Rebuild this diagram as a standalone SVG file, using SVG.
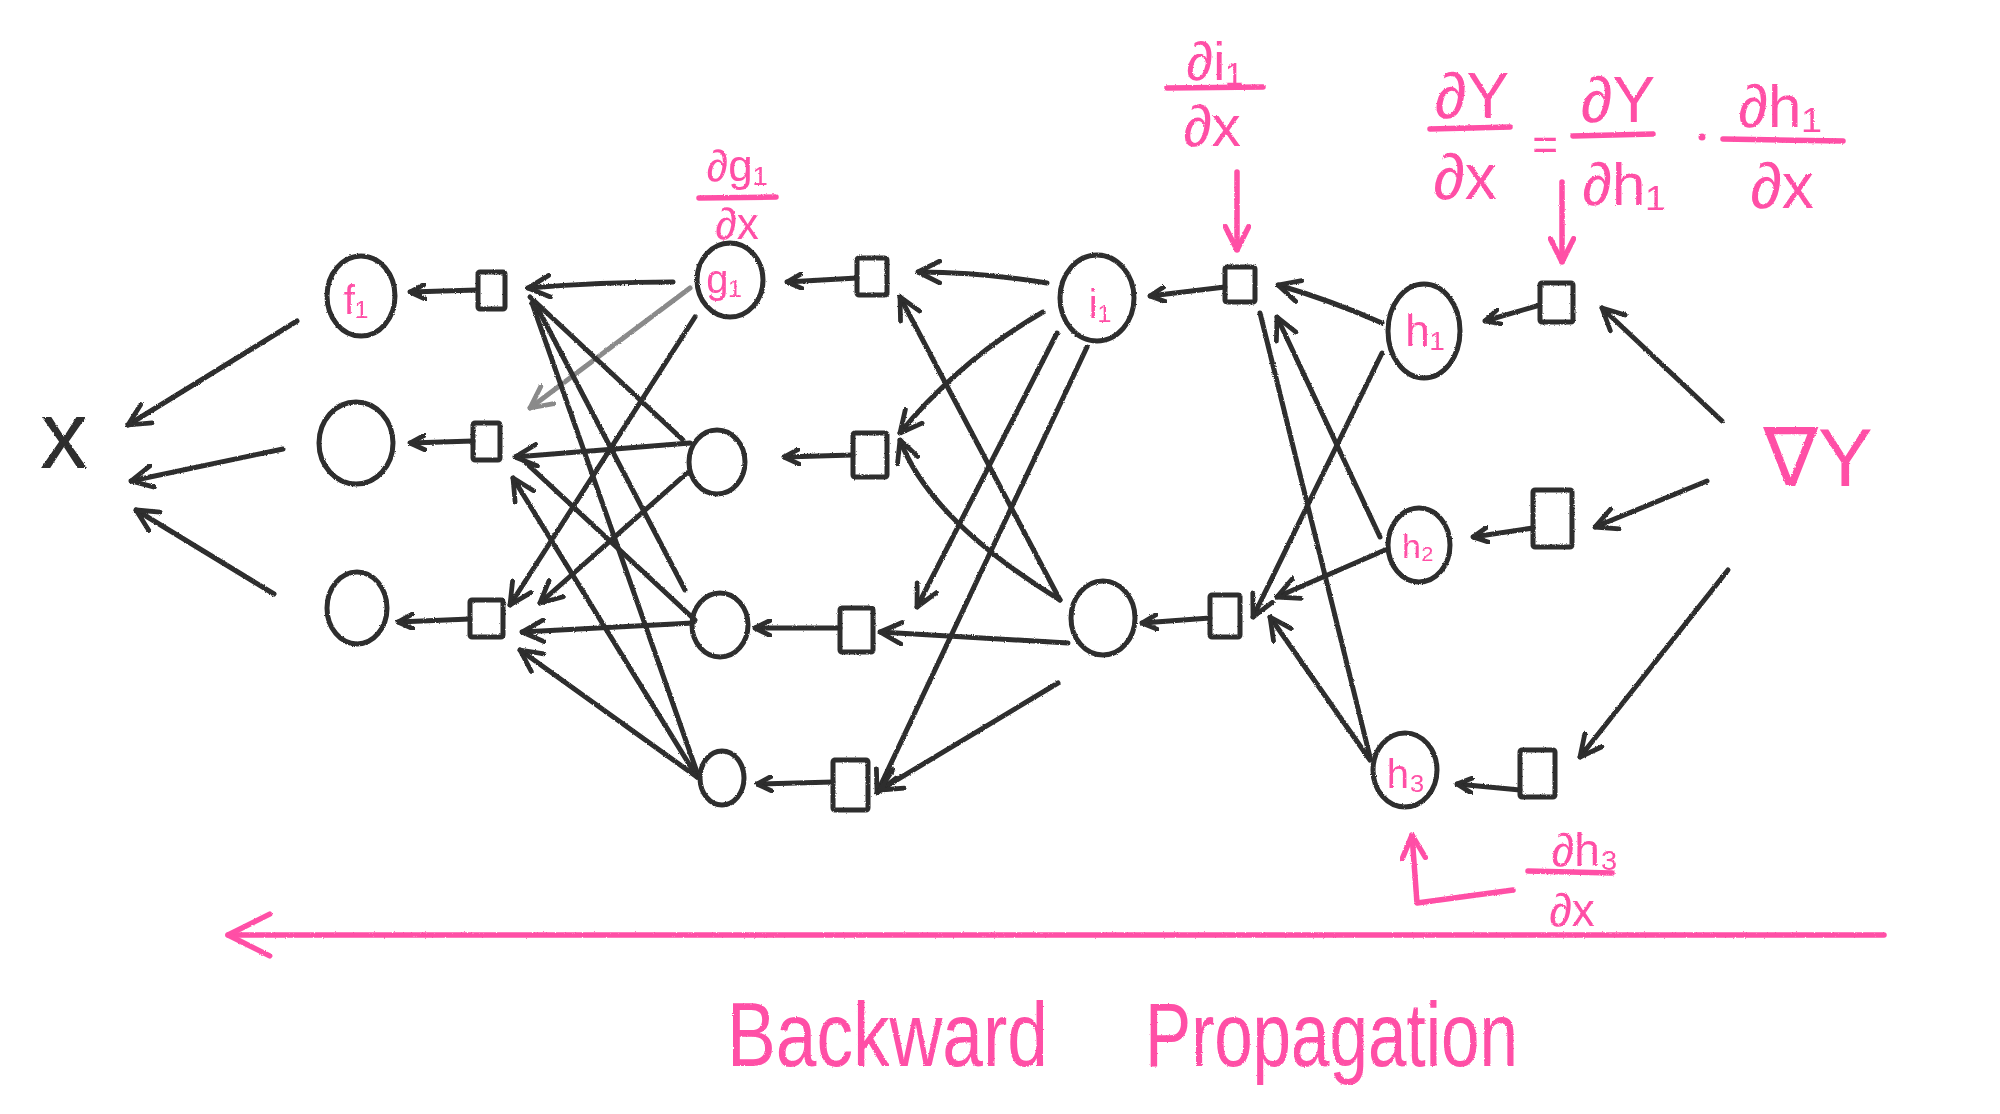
<svg xmlns="http://www.w3.org/2000/svg" width="2000" height="1114" viewBox="0 0 2000 1114">
<style>
.ln{fill:none;stroke:#2d2d2d;stroke-width:5;stroke-linecap:round;stroke-linejoin:round}
.gr{fill:none;stroke:#8a8a8a;stroke-width:5;stroke-linecap:round}
.nd{fill:none;stroke:#2d2d2d;stroke-width:5}
.pk{fill:none;stroke:#ff4fa6;stroke-width:5.5;stroke-linecap:round;stroke-linejoin:round}
.pt{fill:#ff4fa6;font-family:"Liberation Sans","DejaVu Sans",sans-serif;text-anchor:middle}
.ps{fill:#ff4fa6;font-family:"Liberation Sans","DejaVu Sans",sans-serif;text-anchor:start}
.bt{fill:#2d2d2d;font-family:"Liberation Sans","DejaVu Sans",sans-serif;text-anchor:middle}
</style>
<defs>
<filter id="rough" x="-5%" y="-5%" width="110%" height="110%">
<feTurbulence type="fractalNoise" baseFrequency="0.9" numOctaves="1" seed="3" result="n"/>
<feDisplacementMap in="SourceGraphic" in2="n" scale="2.5" xChannelSelector="R" yChannelSelector="G"/>
</filter>
<marker id="ab" viewBox="0 0 12 12" refX="11" refY="6" markerWidth="26" markerHeight="26" markerUnits="userSpaceOnUse" orient="auto"><path d="M1,1 L11,6 L1,11" fill="none" stroke="#2d2d2d" stroke-width="2.2" stroke-linecap="round" stroke-linejoin="round"/></marker>
<marker id="as" viewBox="0 0 12 12" refX="11" refY="6" markerWidth="18" markerHeight="18" markerUnits="userSpaceOnUse" orient="auto"><path d="M1,1 L11,6 L1,11" fill="none" stroke="#2d2d2d" stroke-width="3.2" stroke-linecap="round" stroke-linejoin="round"/></marker>
<marker id="ag" viewBox="0 0 12 12" refX="11" refY="6" markerWidth="26" markerHeight="26" markerUnits="userSpaceOnUse" orient="auto"><path d="M1,1 L11,6 L1,11" fill="none" stroke="#8a8a8a" stroke-width="2.2" stroke-linecap="round" stroke-linejoin="round"/></marker>
<marker id="ap" viewBox="0 0 12 12" refX="11" refY="6" markerWidth="28" markerHeight="28" markerUnits="userSpaceOnUse" orient="auto"><path d="M1,1 L11,6 L1,11" fill="none" stroke="#ff4fa6" stroke-width="2.3" stroke-linecap="round" stroke-linejoin="round"/></marker>
<marker id="apb" viewBox="0 0 12 12" refX="11" refY="6" markerWidth="50" markerHeight="50" markerUnits="userSpaceOnUse" orient="auto"><path d="M1,1 L11,6 L1,11" fill="none" stroke="#ff4fa6" stroke-width="1.3" stroke-linecap="round" stroke-linejoin="round"/></marker>
</defs>
<rect width="2000" height="1114" fill="#ffffff"/>
<g filter="url(#rough)">
<g id="connectors">
<path class="ln" d="M297,321 L128,425" marker-end="url(#ab)"/>
<path class="ln" d="M283,449 L131,481" marker-end="url(#ab)"/>
<path class="ln" d="M274,594 L136,510" marker-end="url(#ab)"/>
<path class="ln" d="M477,290 L410,292" marker-end="url(#as)"/>
<path class="ln" d="M473,441 L410,443" marker-end="url(#as)"/>
<path class="ln" d="M470,619 L398,622" marker-end="url(#as)"/>
<path class="ln" d="M857,278 L787,282" marker-end="url(#as)"/>
<path class="ln" d="M853,455 L784,457" marker-end="url(#as)"/>
<path class="ln" d="M840,628 L755,628" marker-end="url(#as)"/>
<path class="ln" d="M833,782 L757,784" marker-end="url(#as)"/>
<path class="ln" d="M1225,287 L1150,296" marker-end="url(#as)"/>
<path class="ln" d="M1210,618 L1142,623" marker-end="url(#as)"/>
<path class="ln" d="M1540,305 L1485,321" marker-end="url(#as)"/>
<path class="ln" d="M1533,528 L1473,537" marker-end="url(#as)"/>
<path class="ln" d="M1520,790 L1457,784" marker-end="url(#as)"/>
<path class="ln" d="M673,282 Q600,282 528,288" marker-end="url(#ab)"/>
<path class="gr" d="M690,288 L530,408" marker-end="url(#ag)"/>
<path class="ln" d="M695,317 L510,605" marker-end="url(#ab)"/>
<path class="ln" d="M683,440 L530,297"/>
<path class="ln" d="M690,443 L515,457" marker-end="url(#ab)"/>
<path class="ln" d="M687,473 L540,603" marker-end="url(#ab)"/>
<path class="ln" d="M685,590 L537,307"/>
<path class="ln" d="M695,620 L525,462"/>
<path class="ln" d="M693,623 L522,632" marker-end="url(#ab)"/>
<path class="ln" d="M698,775 L532,303"/>
<path class="ln" d="M697,777 L513,478" marker-end="url(#ab)"/>
<path class="ln" d="M697,777 L520,650" marker-end="url(#ab)"/>
<path class="ln" d="M1047,283 Q980,272 918,272" marker-end="url(#ab)"/>
<path class="ln" d="M1043,312 Q960,360 900,433" marker-end="url(#ab)"/>
<path class="ln" d="M1057,333 L917,607" marker-end="url(#ab)"/>
<path class="ln" d="M1087,347 L877,793" marker-end="url(#ab)"/>
<path class="ln" d="M1060,600 L900,297" marker-end="url(#ab)"/>
<path class="ln" d="M1060,600 Q930,520 900,440" marker-end="url(#ab)"/>
<path class="ln" d="M1068,643 L880,632" marker-end="url(#ab)"/>
<path class="ln" d="M1058,683 L880,790" marker-end="url(#ab)"/>
<path class="ln" d="M1382,323 Q1330,300 1278,285" marker-end="url(#ab)"/>
<path class="ln" d="M1382,353 L1253,617" marker-end="url(#ab)"/>
<path class="ln" d="M1380,537 L1277,317" marker-end="url(#ab)"/>
<path class="ln" d="M1385,550 L1277,597" marker-end="url(#ab)"/>
<path class="ln" d="M1370,757 L1260,313"/>
<path class="ln" d="M1370,760 L1270,617" marker-end="url(#ab)"/>
<path class="ln" d="M1722,421 L1602,308" marker-end="url(#ab)"/>
<path class="ln" d="M1707,481 L1595,527" marker-end="url(#ab)"/>
<path class="ln" d="M1728,570 L1580,757" marker-end="url(#ab)"/>
<path class="pk" d="M1237,172 L1237,250" marker-end="url(#ap)"/>
<path class="pk" d="M1562,182 L1562,262" marker-end="url(#ap)"/>
<path class="pk" d="M1513,890 L1417,903 L1412,835" marker-end="url(#ap)"/>
<path class="pk" stroke-width="6.5" d="M1884,935 L228,935" marker-end="url(#apb)"/>
</g>
<g id="x"><text class="bt" x="64" y="468" font-size="96">x</text></g>
<g id="f1"><ellipse class="nd" cx="361" cy="296" rx="34" ry="40"/><text class="pt" x="356" y="314" font-size="40">f₁</text></g>
<g id="f2"><ellipse class="nd" cx="356" cy="443" rx="37" ry="41"/></g>
<g id="f3"><ellipse class="nd" cx="357" cy="608" rx="30" ry="36"/></g>
<g id="sf1"><rect class="nd" x="478" y="272" width="27" height="37" rx="2"/></g>
<g id="sf2"><rect class="nd" x="473" y="423" width="27" height="37" rx="2"/></g>
<g id="sf3"><rect class="nd" x="470" y="600" width="33" height="37" rx="2"/></g>
<g id="g1"><ellipse class="nd" cx="730" cy="280" rx="33" ry="37"/><text class="pt" x="724" y="293" font-size="40">g₁</text></g>
<g id="g2"><ellipse class="nd" cx="717" cy="462" rx="28" ry="32"/></g>
<g id="g3"><ellipse class="nd" cx="720" cy="625" rx="28" ry="32"/></g>
<g id="g4"><ellipse class="nd" cx="722" cy="778" rx="22" ry="27"/></g>
<g id="sg1"><rect class="nd" x="857" y="258" width="30" height="37" rx="2"/></g>
<g id="sg2"><rect class="nd" x="853" y="433" width="34" height="44" rx="2"/></g>
<g id="sg3"><rect class="nd" x="840" y="608" width="33" height="44" rx="2"/></g>
<g id="sg4"><rect class="nd" x="833" y="760" width="35" height="50" rx="2"/></g>
<g id="i1"><ellipse class="nd" cx="1097" cy="298" rx="37" ry="43"/><text class="pt" x="1100" y="318" font-size="40">i₁</text></g>
<g id="i2"><ellipse class="nd" cx="1103" cy="618" rx="32" ry="37"/></g>
<g id="si1"><rect class="nd" x="1225" y="267" width="30" height="35" rx="2"/></g>
<g id="si2"><rect class="nd" x="1210" y="595" width="30" height="42" rx="2"/></g>
<g id="h1"><ellipse class="nd" cx="1424" cy="331" rx="36" ry="47"/><text class="pt" x="1425" y="346" font-size="44">h₁</text></g>
<g id="h2"><ellipse class="nd" cx="1419" cy="545" rx="31" ry="37"/><text class="pt" x="1418" y="558" font-size="34">h₂</text></g>
<g id="h3"><ellipse class="nd" cx="1405" cy="770" rx="32" ry="37"/><text class="pt" x="1406" y="788" font-size="40">h₃</text></g>
<g id="sh1"><rect class="nd" x="1540" y="283" width="33" height="39" rx="2"/></g>
<g id="sh2"><rect class="nd" x="1533" y="490" width="39" height="57" rx="2"/></g>
<g id="sh3"><rect class="nd" x="1520" y="750" width="35" height="47" rx="2"/></g>
<g id="gradY"><text class="pt" x="1818" y="486" font-size="82">∇Y</text></g>
<g id="dg"><text class="pt" x="737" y="181" font-size="44">∂g₁</text><path class="pk" stroke-width="4.5" d="M699,198 L776,197"/><text class="pt" x="737" y="239" font-size="44">∂x</text></g>
<g id="di"><text class="pt" x="1215" y="80" font-size="54">∂i₁</text><path class="pk" d="M1167,88 L1263,87"/><text class="pt" x="1212" y="146" font-size="58">∂x</text></g>
<g id="eq">
<text class="pt" x="1472" y="118" font-size="64">∂Y</text><path class="pk" d="M1430,129 L1510,127"/><text class="pt" x="1465" y="199" font-size="64">∂x</text>
<text class="pt" x="1545" y="160" font-size="44">=</text>
<text class="pt" x="1618" y="122" font-size="64">∂Y</text><path class="pk" d="M1573,136 L1653,134"/><text class="pt" x="1624" y="205" font-size="60">∂h₁</text>
<circle cx="1702" cy="137" r="3.5" fill="#ff4fa6"/>
<text class="pt" x="1780" y="127" font-size="60">∂h₁</text><path class="pk" d="M1723,139 L1843,141"/><text class="pt" x="1782" y="208" font-size="64">∂x</text>
</g>
<g id="dh3"><text class="pt" x="1585" y="866" font-size="46">∂h₃</text><path class="pk" stroke-width="4.5" d="M1528,871 L1612,873"/><text class="pt" x="1572" y="926" font-size="46">∂x</text></g>
<g id="title"><text class="ps" y="1066" font-size="90"><tspan x="727" textLength="321" lengthAdjust="spacingAndGlyphs">Backward</tspan><tspan x="1145" textLength="373" lengthAdjust="spacingAndGlyphs">Propagation</tspan></text></g>
</g>
</svg>
